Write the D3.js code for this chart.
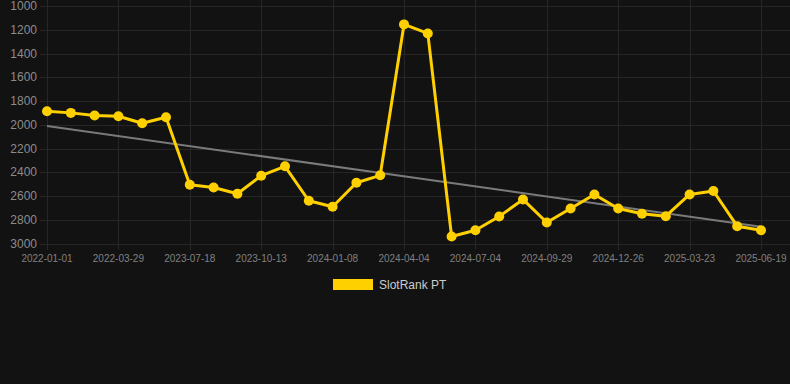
<!DOCTYPE html>
<html>
<head>
<meta charset="utf-8">
<script src="https://cdn.jsdelivr.net/npm/d3@7"></script>
<style>
  html, body { margin: 0; padding: 0; background: #121212; }
  svg { display: block; font-family: "Liberation Sans", Arial, sans-serif; }
</style>
</head>
<body>
<svg id="chart" width="790" height="384"></svg>
<script>
// ---------------- Data ----------------
const seriesName = "SlotRank PT";
const rankValues = [
  1886, 1900, 1922, 1928, 1987, 1937, 2505, 2528, 2581, 2429, 2350,
  2640, 2690, 2488, 2426, 1155, 1231, 2941, 2888, 2772, 2629, 2823,
  2705, 2587, 2705, 2750, 2770, 2587, 2558, 2854, 2888
];
// date labels shown on the axis (every third point)
const tickLabels = [
  "2022-01-01", "2022-03-29", "2023-07-18", "2023-10-13", "2024-01-08",
  "2024-04-04", "2024-07-04", "2024-09-29", "2024-12-26", "2025-03-23", "2025-06-19"
];
const tickIndex = [0, 3, 6, 9, 12, 15, 18, 21, 24, 27, 30];
// trend line, start and end values
const trendValues = [2010, 2858];
const yTicks = [1000, 1200, 1400, 1600, 1800, 2000, 2200, 2400, 2600, 2800, 3000];

const svg = d3.select("#chart");
const width = +svg.attr("width");

const x = d3.scaleLinear().domain([0, rankValues.length - 1]).range([47, 761]);
const y = d3.scaleLinear().domain([1000, 3000]).range([6, 243.5]);

const gridColor = "#262626";

// Horizontal grid
svg.append("g")
  .selectAll("line")
  .data(yTicks)
  .enter()
  .append("line")
  .attr("x1", 40)
  .attr("x2", width)
  .attr("y1", d => Math.round(y(d)) + 0.5)
  .attr("y2", d => Math.round(y(d)) + 0.5)
  .attr("stroke", gridColor)
  .attr("stroke-width", 1);

// Vertical grid
svg.append("g")
  .selectAll("line")
  .data(tickIndex)
  .enter()
  .append("line")
  .attr("x1", d => Math.round(x(d)) + 0.5)
  .attr("x2", d => Math.round(x(d)) + 0.5)
  .attr("y1", 0)
  .attr("y2", 250)
  .attr("stroke", gridColor)
  .attr("stroke-width", 1);

// Y labels
svg.append("g")
  .selectAll("text")
  .data(yTicks)
  .enter()
  .append("text")
  .attr("x", 37)
  .attr("y", d => y(d))
  .attr("dy", "0.35em")
  .attr("text-anchor", "end")
  .attr("fill", "#8c8c8c")
  .attr("font-size", 12)
  .text(d => d);

// X labels
svg.append("g")
  .selectAll("text")
  .data(tickIndex)
  .enter()
  .append("text")
  .attr("x", d => x(d))
  .attr("y", 262)
  .attr("text-anchor", "middle")
  .attr("fill", "#808080")
  .attr("font-size", 10)
  .text((d, i) => tickLabels[i]);

// Trend line
svg.append("line")
  .attr("x1", x(0))
  .attr("x2", x(rankValues.length - 1))
  .attr("y1", y(trendValues[0]))
  .attr("y2", y(trendValues[1]))
  .attr("stroke", "#7a7a7a")
  .attr("stroke-width", 2);

// Main series
const line = d3.line()
  .x((d, i) => x(i))
  .y(d => y(d));

svg.append("path")
  .datum(rankValues)
  .attr("d", line)
  .attr("fill", "none")
  .attr("stroke", "#ffd000")
  .attr("stroke-width", 3)
  .attr("stroke-linejoin", "round");

svg.append("g")
  .selectAll("circle")
  .data(rankValues)
  .enter()
  .append("circle")
  .attr("cx", (d, i) => x(i))
  .attr("cy", d => y(d))
  .attr("r", 5)
  .attr("fill", "#ffd000");

// Legend
const legend = svg.append("g").attr("transform", "translate(333,279)");
legend.append("rect")
  .attr("width", 40)
  .attr("height", 11)
  .attr("fill", "#ffd000");
legend.append("text")
  .attr("x", 46)
  .attr("y", 5.5)
  .attr("dy", "0.35em")
  .attr("fill", "#cccccc")
  .attr("font-size", 12)
  .text(seriesName);
</script>
</body>
</html>
